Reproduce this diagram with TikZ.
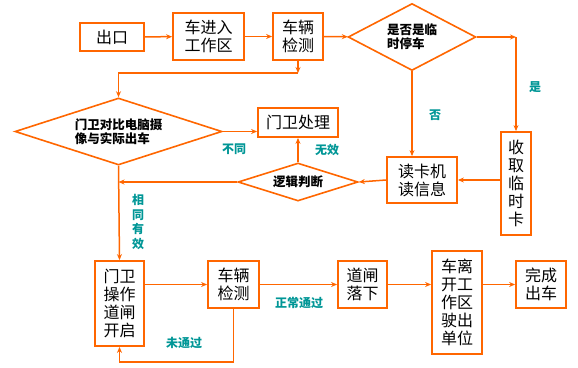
\documentclass[tikz,border=0pt]{standalone}
\usepackage{fontspec}
\newfontfamily\cjk{Noto Sans CJK SC}
\usetikzlibrary{arrows.meta,shapes.geometric}
\definecolor{org}{RGB}{255,102,0}
\definecolor{tealc}{RGB}{0,150,150}
\tikzset{
  box/.style={draw=org,line width=1.8pt,fill=white,inner sep=0pt,align=center,
    font=\cjk\fontsize{16}{18}\selectfont},
  dia/.style={draw=org,line width=1.6pt,diamond,aspect=3,inner sep=0pt,align=left,
    font=\cjk\bfseries\fontsize{12.5}{14}\selectfont},
  arr/.style={draw=org,line width=1.5pt,-{Stealth[length=6pt,width=5pt]}},
  ln/.style={draw=org,line width=1.5pt},
  lab/.style={text=tealc,font=\cjk\bfseries\fontsize{12}{15}\selectfont,inner sep=0pt,align=center}
}
\begin{document}
\begin{tikzpicture}[x=1pt,y=-1pt]
\useasboundingbox (0,0) rectangle (578,367);
% top row
\node[box,minimum width=64,minimum height=28] (out) at (112,37) {出口};
\node[box,minimum width=71,minimum height=47] (enter) at (208.5,36.5) {车进入\\工作区};
\node[box,minimum width=50,minimum height=47] (det1) at (298,36.5) {车辆\\检测};
\node[dia,minimum width=120,minimum height=67] (d1) at (412,37) {是否是临\\时停车};
\node[box,minimum width=30,minimum height=103] (card) at (516,183.5) {收\\取\\临\\时\\卡};
\node[box,minimum width=70,minimum height=46] (reader) at (422,180) {读卡机\\读信息};
\node[dia,minimum width=120,minimum height=38] (logic) at (298,182) {逻辑判断};
\node[box,minimum width=80,minimum height=29] (guard) at (298,122.5) {门卫处理};
\node[dia,minimum width=207,minimum height=67] (d2) at (118.5,131.5) {门卫对比电脑摄\\像与实际出车};
% bottom row
\node[box,minimum width=49,minimum height=85] (op) at (119.5,303.5) {门卫\\操作\\道闸\\开启};
\node[box,minimum width=51,minimum height=47] (det2) at (233.5,284.5) {车辆\\检测};
\node[box,minimum width=49,minimum height=47] (gate) at (362.5,284.5) {道闸\\落下};
\node[box,minimum width=50,minimum height=103] (leave) at (457,302.5) {车离\\开工\\作区\\驶出\\单位};
\node[box,minimum width=50,minimum height=47] (finish) at (541,284.5) {完成\\出车};
% coordinates
\coordinate (c1) at (516,37);
\coordinate (c3) at (298,73);
\coordinate (c4) at (118.5,73);
\coordinate (c2) at (118.5,182);
\coordinate (c5) at (233.5,362);
\coordinate (c6) at (119.5,362);
% connectors
\draw[arr] (out) -- (enter);
\draw[arr] (enter) -- (det1);
\draw[arr] (det1) -- (d1);
\draw[arr] (d1.east) -- (c1);
\draw[arr] (c1) -- (card.north);
\draw[arr] (d1.south) -- (d1.south |- reader.north);
\draw[arr] (card.west |- reader.east) -- (reader.east);
\draw[arr] (reader.west) -- (logic.east);
\draw[arr] (logic.north) -- (guard.south);
\draw[arr] (logic.west) -- (c2);
\draw[arr] (d2.east) -- (guard.west |- d2.east);
\draw[arr] (det1.south) -- (c3);
\draw[arr] (c3) -- (c4) -- (d2.north);
\draw[arr] (d2.south) -- (op.north);
\draw[arr] (op.east |- det2.west) -- (det2.west);
\draw[arr] (det2.south) -- (c5) -- (c6) -- (op.south);
\draw[arr] (det2.east) -- (gate.west);
\draw[arr] (gate.east) -- (leave.west |- gate.east);
\draw[arr] (leave.east |- finish.west) -- (finish.west);
% labels
\node[lab] (lyes) at (535,87) {是};
\node[lab] (lno) at (435,115) {否};
\node[lab] (ldiff) at (234,149) {不同};
\node[lab] (linv) at (327,150) {无效};
\node[lab,font=\cjk\bfseries\fontsize{12}{14.6}\selectfont] (lsame) at (138,222) {相\\同\\有\\效};
\node[lab] (lfail) at (184,343) {未通过};
\node[lab] (lpass) at (299,303) {正常通过};
\end{tikzpicture}
\end{document}
